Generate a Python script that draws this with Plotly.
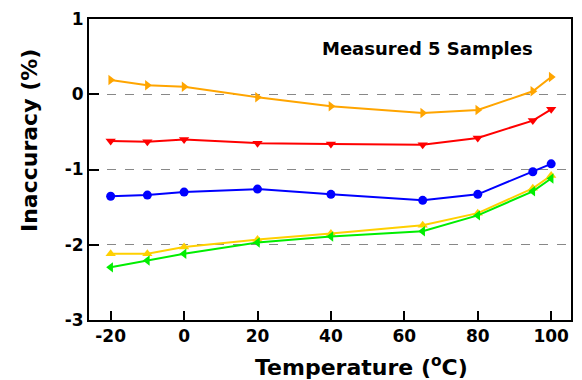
import plotly.graph_objects as go

temps = [-20, -10, 0, 20, 40, 65, 80, 95, 100]
s_orange = [0.19, 0.12, 0.10, -0.04, -0.16, -0.25, -0.21, 0.04, 0.23]
s_red = [-0.62, -0.63, -0.60, -0.65, -0.66, -0.67, -0.58, -0.35, -0.20]
s_blue = [-1.355, -1.34, -1.30, -1.26, -1.33, -1.41, -1.33, -1.03, -0.925]
s_gold = [-2.12, -2.12, -2.03, -1.93, -1.85, -1.74, -1.58, -1.25, -1.08]
s_green = [-2.30, -2.21, -2.12, -1.97, -1.89, -1.82, -1.61, -1.29, -1.12]

x_ticks = [-20, 0, 20, 40, 60, 80, 100]
x_tick_labels = ["-20", "0", "20", "40", "60", "80", "100"]
y_ticks = [1, 0, -1, -2, -3]
y_tick_labels = ["1", "0", "-1", "-2", "-3"]

series = [
    (s_orange, "#FFA500", "triangle-right"),
    (s_red, "#FF0000", "triangle-down"),
    (s_blue, "#0000FF", "circle"),
    (s_gold, "#FFD000", "triangle-up"),
    (s_green, "#00EE00", "triangle-left"),
]

FONT = "DejaVu Sans"
fig = go.Figure()
for vals, col, sym in series:
    fig.add_trace(go.Scatter(
        x=temps, y=vals, mode="lines+markers",
        line=dict(color=col, width=2),
        marker=dict(color=col, symbol=sym, size=9),
        showlegend=False,
    ))

fig.update_layout(
    width=582, height=380,
    margin=dict(l=89, r=9, t=16, b=60),
    plot_bgcolor="white", paper_bgcolor="white",
    font=dict(family=FONT, color="black"),
)
fig.update_xaxes(
    range=[-25.9, 105.4], tickvals=x_ticks, ticktext=x_tick_labels,
    ticks="inside", ticklen=9, tickwidth=2, tickcolor="black",
    showline=True, linecolor="black", linewidth=2, mirror=True,
    showgrid=False, zeroline=False,
    tickfont=dict(size=17, family=FONT, weight="bold"),
)
fig.update_yaxes(
    range=[-3, 1], tickvals=y_ticks, ticktext=y_tick_labels,
    ticks="inside", ticklen=10, tickwidth=2, tickcolor="black",
    showline=True, linecolor="black", linewidth=2, mirror=True,
    showgrid=True, gridcolor="#888888", gridwidth=1, griddash="dash",
    zeroline=False,
    tickfont=dict(size=17, family=FONT, weight="bold"),
)
fig.add_annotation(
    text="Measured 5 Samples", xref="paper", yref="paper",
    x=(429 - 89) / 484, y=(320 - 46) / 304, xanchor="center", yanchor="middle",
    showarrow=False, font=dict(size=18, family=FONT, weight="bold"),
)
fig.add_annotation(
    text="Temperature (<sup>o</sup>C)", xref="paper", yref="paper",
    x=(363 - 89) / 484, y=(320 - 366) / 304, xanchor="center", yanchor="middle",
    showarrow=False, font=dict(size=22, family=FONT, weight="bold"),
)
fig.add_annotation(
    text="Inaccuracy (%)", xref="paper", yref="paper",
    x=(30 - 89) / 484, y=(320 - 139) / 304, xanchor="center", yanchor="middle",
    textangle=-90, showarrow=False, font=dict(size=22, family=FONT, weight="bold"),
)
fig.write_html("out.html", config={"displayModeBar": False},
               post_script="document.body.style.margin='0';")
